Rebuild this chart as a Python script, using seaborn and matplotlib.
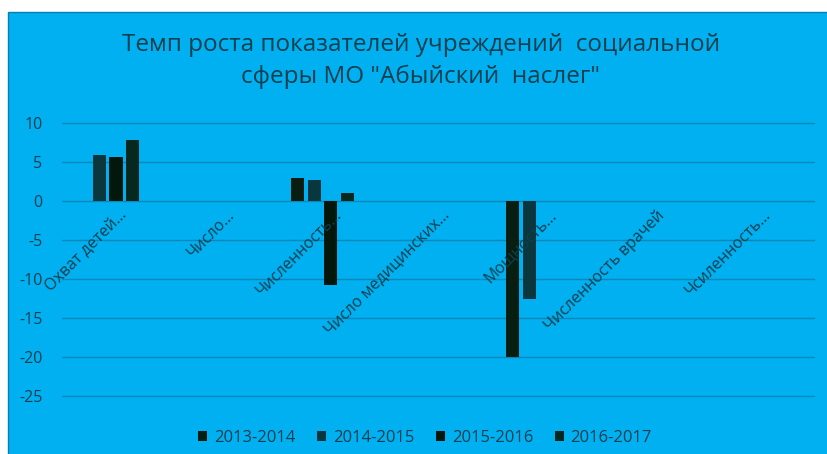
import numpy as np
import pandas as pd
import matplotlib
matplotlib.use("Agg")
import matplotlib.pyplot as plt
import matplotlib.transforms as mtransforms
from matplotlib.patches import Rectangle
import seaborn as sns

categories = [
    "Охват детей…",
    "Число…",
    "Численность…",
    "Число медицинских…",
    "Мощность…",
    "Численность врачей",
    "Чсиленность…",
]
periods = ["2013-2014", "2014-2015", "2015-2016", "2016-2017"]
v_2013_2014 = [np.nan, np.nan, 2.9, np.nan, -20.0, np.nan, np.nan]
v_2014_2015 = [5.9, np.nan, 2.7, np.nan, -12.5, np.nan, np.nan]
v_2015_2016 = [5.6, np.nan, -10.8, np.nan, np.nan, np.nan, np.nan]
v_2016_2017 = [7.8, np.nan, 1.0, np.nan, np.nan, np.nan, np.nan]
y_ticks = [10, 5, 0, -5, -10, -15, -20, -25]

rows = []
for period, vals in zip(periods, [v_2013_2014, v_2014_2015, v_2015_2016, v_2016_2017]):
    for cat, v in zip(categories, vals):
        rows.append({"Показатель": cat, "Период": period, "Темп": v})
df = pd.DataFrame(rows)

bg = "#00B0F0"
grid_col = "#0C88B8"
text_col = "#0E3F4E"
palette = {
    "2013-2014": "#03220F",
    "2014-2015": "#023C45",
    "2015-2016": "#011A0A",
    "2016-2017": "#022D22",
}

sns.set_style("white")
plt.rcParams["font.family"] = ["Open Sans", "DejaVu Sans"]

fig = plt.figure(figsize=(8.27, 4.54), dpi=100)
fig.patch.set_facecolor("white")
# синий фон области диаграммы
fig.patches.append(
    Rectangle((8 / 827, -0.01), 1.0, (454 - 12) / 454 + 0.01, transform=fig.transFigure,
              facecolor=bg, edgecolor="#0A7FAE", linewidth=1.0, zorder=-10)
)

ax = fig.add_axes([62 / 827, (454 - 396) / 454, 752 / 827, 273 / 454])
ax.set_zorder(1)
ax.patch.set_alpha(0)

sns.barplot(
    data=df,
    x="Показатель",
    y="Темп",
    hue="Период",
    order=categories,
    hue_order=periods,
    palette=palette,
    width=0.615,
    gap=0.2,
    errorbar=None,
    linewidth=0,
    ax=ax,
)

# ось Y
ax.set_ylim(-25, 10)
ax.set_yticks(y_ticks)
ax.set_yticklabels([str(t) for t in y_ticks])
ax.tick_params(axis="y", length=0, pad=14, labelsize=11.5, labelcolor=text_col)
ax.yaxis.grid(True, color=grid_col, linewidth=1.0)
ax.set_axisbelow(True)
for s in ax.spines.values():
    s.set_visible(False)
for gl in ax.get_ygridlines():
    gl.set_clip_on(False)

# смещение категорий как в Excel
ax.set_xlim(-0.426, 6.574)
ax.set_xlabel("")
ax.set_ylabel("")
ax.set_xticks([])

# подписи категорий под углом 45°
offs = mtransforms.offset_copy(ax.transData, fig=fig, x=11, y=-6, units="dots")
for i, cat in enumerate(categories):
    ax.text(i, 0, cat, rotation=45, rotation_mode="anchor", ha="right", va="top",
            fontsize=11.5, color=text_col, transform=offs, clip_on=False)

# легенда
handles, labels = ax.get_legend_handles_labels()
ax.legend(handles, labels, loc="center", bbox_to_anchor=(425 / 827, 16 / 454),
          bbox_transform=fig.transFigure, ncol=4, frameon=False, fontsize=12,
          handlelength=0.55, handleheight=0.55, handletextpad=0.4, columnspacing=1.3,
          labelcolor=text_col)

fig.text(421 / 827, (454 - 61) / 454,
         "Темп роста показателей учреждений  социальной\nсферы МО \"Абыйский  наслег\"",
         ha="center", va="center", fontsize=17.5, color=text_col, linespacing=1.45)

fig.savefig("out.png", dpi=100, facecolor=fig.get_facecolor())
